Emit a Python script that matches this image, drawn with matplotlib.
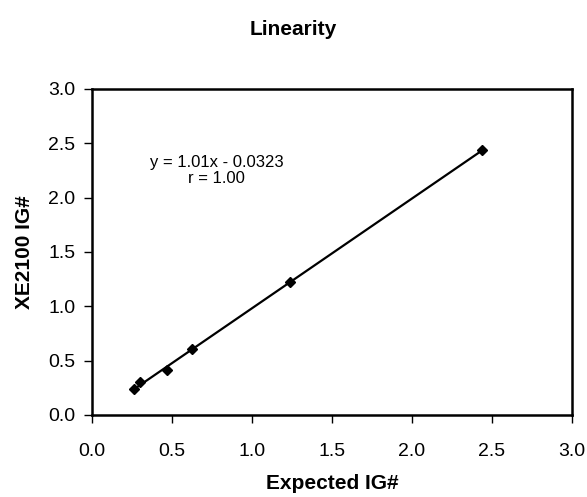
import numpy as np
import matplotlib.pyplot as plt

# Values
expected_ig = [0.26, 0.30, 0.47, 0.625, 1.24, 2.44]
xe2100_ig = [0.24, 0.30, 0.41, 0.61, 1.22, 2.44]
tick_values = [0.0, 0.5, 1.0, 1.5, 2.0, 2.5, 3.0]
tick_labels = ["0.0", "0.5", "1.0", "1.5", "2.0", "2.5", "3.0"]
equation_text = "y = 1.01x - 0.0323\nr = 1.00"

plt.rcParams["font.family"] = ["Liberation Sans", "DejaVu Sans"]

fig = plt.figure(figsize=(5.87, 4.97), dpi=100)
ax = fig.add_axes([0.1567, 0.165, 0.8177, 0.656])

# Linear trendline from the data
slope, intercept = np.polyfit(expected_ig, xe2100_ig, 1)
xs = np.array([min(expected_ig), max(expected_ig)])
ax.plot(xs, slope * xs + intercept, color="black", lw=1.6, zorder=2)
ax.plot(expected_ig, xe2100_ig, linestyle="none", marker="D", ms=5,
        color="black", zorder=3)

ax.set_xlim(0, 3)
ax.set_ylim(0, 3)
ax.set_xticks(tick_values)
ax.set_xticklabels(tick_labels)
ax.set_yticks(tick_values)
ax.set_yticklabels(tick_labels)
ax.tick_params(direction="out", length=6, width=1, labelsize=14)
ax.tick_params(axis="x", pad=14)
ax.tick_params(axis="y", pad=6)
for sp in ax.spines.values():
    sp.set_linewidth(1.8)

ax.text(0.26, 0.75, equation_text, transform=ax.transAxes, ha="center",
        va="center", fontsize=12, linespacing=1.1)

ax.set_xlabel("Expected IG#", fontsize=15, fontweight="bold", labelpad=10)
ax.set_ylabel("XE2100 IG#", fontsize=15, fontweight="bold", labelpad=10)
fig.suptitle("Linearity", fontsize=15, fontweight="bold", y=0.96)

fig.savefig("out.png", dpi=100)
